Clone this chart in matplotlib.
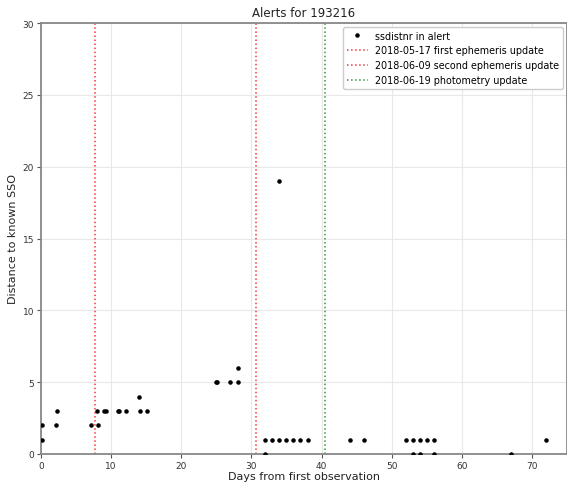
import matplotlib
matplotlib.use("Agg")
import matplotlib.pyplot as plt

# Alert distances to the nearest known solar-system object
days = [0.1, 0.1, 2.2, 2.3, 7.2, 8.05, 8.15, 9.0, 9.3, 11.0, 11.1, 12.1, 14.0, 14.1, 15.1,
        25.0, 25.1, 27.0, 28.05, 28.05,
        32.0, 32.0, 33.0, 34.0, 34.0, 35.0, 36.0, 37.0, 38.0,
        44.0, 46.0,
        52.0, 53.0, 53.0, 54.0, 54.0, 55.0, 56.0, 56.0, 67.0, 72.0]
ssdistnr = [2, 1, 2, 3, 2, 3, 2, 3, 3, 3, 3, 3, 4, 3, 3,
            5, 5, 5, 5, 6,
            1, 0, 1, 1, 19, 1, 1, 1, 1,
            1, 1,
            1, 1, 0, 1, 0, 1, 1, 0, 0, 1]

# Update events (days since first observation)
event_days = [7.73, 30.7, 40.5]
event_labels = ["2018-05-17 first ephemeris update",
                "2018-06-09 second ephemeris update",
                "2018-06-19 photometry update"]
event_colors = ["red", "red", "green"]

fig = plt.figure(figsize=(5.67, 4.85), dpi=100)
ax = fig.add_axes([41 / 567, 30 / 485, 526 / 567, 431 / 485])

ax.plot(days, ssdistnr, ".", color="black", markersize=4.5, label="ssdistnr in alert", zorder=3)
for d, lab, c in zip(event_days, event_labels, event_colors):
    ax.axvline(d, color=c, linestyle=":", linewidth=1.1, alpha=0.8, label=lab)

ax.set_xlim(0, 75)
ax.set_ylim(0, 30)
ax.set_xticks(range(0, 71, 10))
ax.set_yticks(range(0, 31, 5))
ax.grid(True, color="#e8e8e8", linewidth=0.8)
ax.set_axisbelow(True)
ax.tick_params(labelsize=6.5, length=3, color="#555555", labelcolor="#333333", pad=2)
for s in ax.spines.values():
    s.set_color("#888888")
    s.set_linewidth(1.3)

ax.set_title("Alerts for 193216", fontsize=8.5, color="#222222", pad=5)
ax.set_xlabel("Days from first observation", fontsize=8, color="#222222", labelpad=1)
ax.set_ylabel("Distance to known SSO", fontsize=8, color="#222222", labelpad=3)
ax.legend(loc="upper right", fontsize=6.9, handlelength=2.2, framealpha=1,
          edgecolor="#cccccc", borderaxespad=0.4)

fig.savefig("out.png", dpi=100)
